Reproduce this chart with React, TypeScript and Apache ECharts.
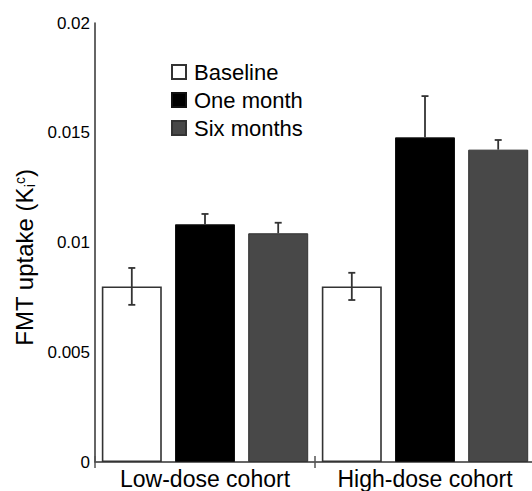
import React, { useEffect, useRef } from "react";
import * as echarts from "echarts";

const categories = ["Low-dose cohort", "High-dose cohort"];
const seriesNames = ["Baseline", "One month", "Six months"];
const baselineValues = [0.0080, 0.0080];
const oneMonthValues = [0.01083, 0.01479];
const sixMonthValues = [0.01042, 0.01423];
const baselineErr = [0.00084, 0.00062];
const oneMonthErr = [0.00047, 0.00188];
const sixMonthErr = [0.00048, 0.00044];
const yTicks = [0, 0.005, 0.01, 0.015, 0.02];

const BAR_W = 60;
const GAP = 0.22;
const FONT = "Liberation Sans, Arial, Helvetica, sans-serif";

export default function App() {
  const ref = useRef<HTMLDivElement>(null);
  useEffect(() => {
    if (!ref.current) return;
    const chart = echarts.init(ref.current, undefined, { renderer: "svg" });
    const pitch = BAR_W * (1 + GAP);
    const values = [baselineValues, oneMonthValues, sixMonthValues];
    const errs = [baselineErr, oneMonthErr, sixMonthErr];
    const fills = ["#ffffff", "#000000", "#484848"];
    const borders = ["#333333", "#111111", "#333333"];

    const barSeries = values.map((vals, i) => ({
      type: "bar",
      name: seriesNames[i],
      data: vals,
      barWidth: BAR_W,
      barGap: GAP * 100 + "%",
      itemStyle: { color: fills[i], borderColor: borders[i], borderWidth: i === 0 ? 1.6 : 1 },
      z: 2,
    }));

    const errSeries = values.map((vals, i) => ({
      type: "custom",
      name: "err" + i,
      data: vals.map((v, k) => [k, v, errs[i][k]]),
      z: 5,
      silent: true,
      renderItem: (params: any, api: any) => {
        const idx = api.value(0);
        const v = api.value(1);
        const e = api.value(2);
        const c = api.coord([idx, v]);
        const hi = api.coord([idx, v + e]);
        const lo = api.coord([idx, v - e]);
        const x = c[0] + (i - 1) * pitch;
        const bottomY = i === 0 ? lo[1] : c[1];
        const style = { stroke: "#333333", lineWidth: 1.8 };
        const children: any[] = [
          { type: "line", shape: { x1: x, y1: hi[1], x2: x, y2: bottomY }, style },
          { type: "line", shape: { x1: x - 3.5, y1: hi[1], x2: x + 3.5, y2: hi[1] }, style },
        ];
        if (i === 0) {
          children.push({ type: "line", shape: { x1: x - 3.5, y1: lo[1], x2: x + 3.5, y2: lo[1] }, style });
        }
        return { type: "group", children };
      },
    }));

    chart.setOption({
      animation: false,
      backgroundColor: "#ffffff",
      textStyle: { fontFamily: FONT },
      grid: { left: 95, right: 0, top: 23, bottom: 29, containLabel: false },
      legend: {
        data: seriesNames.map((n) => ({ name: n, icon: "rect" })),
        orient: "vertical",
        left: 166,
        top: 56,
        itemWidth: 14,
        itemHeight: 14,
        itemGap: 6,
        selectedMode: false,
        textStyle: { fontSize: 22, color: "#000", fontFamily: FONT, padding: [0, 0, 0, 3] },
      },
      xAxis: [
        {
          type: "category",
          data: categories,
          axisLine: { lineStyle: { color: "#333", width: 1.5 } },
          axisTick: { show: true, length: 6, lineStyle: { color: "#555", width: 1.5 } },
          axisLabel: { fontSize: 23, color: "#000", margin: 5, fontFamily: FONT, interval: 0 },
        },
        {
          type: "category",
          data: categories,
          position: "bottom",
          axisLine: { show: false },
          axisTick: { show: true, inside: true, length: 6, lineStyle: { color: "#555", width: 1.5 } },
          axisLabel: { show: false },
        },
      ],
      yAxis: {
        type: "value",
        min: yTicks[0],
        max: yTicks[yTicks.length - 1],
        interval: yTicks[1] - yTicks[0],
        splitLine: { show: false },
        axisTick: { show: false },
        axisLine: { show: true, lineStyle: { color: "#333", width: 1.5 } },
        axisLabel: {
          fontSize: 17,
          color: "#000",
          margin: 5,
          fontFamily: FONT,
          formatter: (v: number) => String(parseFloat(v.toFixed(4))),
        },
        name: "FMT uptake (K{sub|i}{sup|c})",
        nameLocation: "middle",
        nameGap: 52,
        nameTextStyle: {
          fontSize: 24,
          color: "#000",
          fontFamily: FONT,
          padding: [0, 30, 0, 0],
          rich: {
            sub: { fontSize: 14, verticalAlign: "bottom", lineHeight: 24, fontFamily: FONT, color: "#000" },
            sup: { fontSize: 14, verticalAlign: "top", lineHeight: 24, fontFamily: FONT, color: "#000" },
          },
        },
      },
      series: [...barSeries, ...errSeries],
    });
    return () => chart.dispose();
  }, []);
  return (
    <div style={{ width: 532, height: 491, position: "absolute", left: 0, top: 0, overflow: "hidden" }}>
      <div ref={ref} style={{ width: 535, height: 491 }} />
    </div>
  );
}
